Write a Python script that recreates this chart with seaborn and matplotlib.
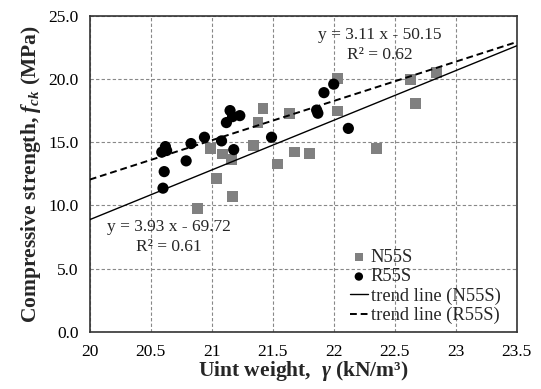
import numpy as np
import pandas as pd
import matplotlib
matplotlib.use("Agg")
import matplotlib.pyplot as plt
import seaborn as sns
from matplotlib.ticker import FuncFormatter, MultipleLocator

# Data
n55s_x = [20.88, 20.99, 21.04, 21.09, 21.16, 21.17, 21.34, 21.38, 21.42, 21.54,
          21.64, 21.68, 21.80, 22.03, 22.03, 22.35, 22.63, 22.67, 22.84]
n55s_y = [9.78, 14.53, 12.16, 14.08, 13.66, 10.68, 14.74, 16.56, 17.70, 13.29,
          17.25, 14.24, 14.10, 20.02, 17.48, 14.48, 19.96, 18.09, 20.50]

r55s_x = [20.59, 20.62, 20.63, 20.61, 20.60, 20.79, 20.83, 20.94, 21.08, 21.18,
          21.12, 21.15, 21.17, 21.23, 21.49, 21.86, 21.87, 21.92, 22.00, 22.12]
r55s_y = [14.22, 14.66, 14.35, 12.68, 11.37, 13.53, 14.90, 15.40, 15.11, 14.42,
          16.56, 17.51, 17.03, 17.11, 15.40, 17.55, 17.30, 18.93, 19.60, 16.10]

# trend line coefficients (slope, intercept, R^2)
n55s_fit = [3.93, -69.72, 0.61]
r55s_fit = [3.11, -50.15, 0.62]
x_range = [20.0, 23.5]

sns.set_theme(style="white")
plt.rcParams["font.family"] = ["Liberation Serif", "DejaVu Serif"]
plt.rcParams["mathtext.fontset"] = "custom"
plt.rcParams["mathtext.rm"] = "Liberation Serif:bold"
plt.rcParams["mathtext.it"] = "Liberation Serif:italic:bold"
plt.rcParams["mathtext.bf"] = "Liberation Serif:bold"

fig, ax = plt.subplots(figsize=(5.41, 3.89), dpi=100)
fig.subplots_adjust(left=0.166, right=0.955, bottom=0.147, top=0.959)

sns.scatterplot(x=n55s_x, y=n55s_y, marker="s", s=60, color="#808080",
                edgecolor="none", label="N55S", ax=ax, zorder=3)
sns.scatterplot(x=r55s_x, y=r55s_y, marker="o", s=65, color="black",
                edgecolor="none", label="R55S", ax=ax, zorder=4)

xs = np.array(x_range)
sns.lineplot(x=xs, y=n55s_fit[0] * xs + n55s_fit[1], color="black", lw=1.0,
             label="trend line (N55S)", ax=ax, zorder=5)
sns.lineplot(x=xs, y=r55s_fit[0] * xs + r55s_fit[1], color="black", lw=1.4,
             linestyle=(0, (3.5, 2)), label="trend line (R55S)", ax=ax, zorder=5)

ax.set_xlim(20, 23.5)
ax.set_ylim(0, 25)
ax.xaxis.set_major_locator(MultipleLocator(0.5))
ax.yaxis.set_major_locator(MultipleLocator(5))
ax.xaxis.set_major_formatter(FuncFormatter(lambda v, p: f"{v:g}"))
ax.yaxis.set_major_formatter(FuncFormatter(lambda v, p: f"{v:.1f}"))
ax.tick_params(direction="in", length=4, width=0.8, colors="black",
               labelsize=12.5, pad=8)
ax.tick_params(axis="x", pad=9)
ax.grid(True, color="#888888", linestyle=(0, (3, 2)), linewidth=0.8)
for sp in ax.spines.values():
    sp.set_color("#333333")
    sp.set_linewidth(1.2)

ax.set_xlabel(r"Uint weight,  $\gamma$ (kN/m³)", fontsize=15.5,
              fontweight="bold", labelpad=-1)
ax.set_ylabel(r"Compressive strength, $f_{ck}$ (MPa)", fontsize=15.5,
              fontweight="bold", labelpad=4)

ax.text(22.38, 23.5, f"y = {r55s_fit[0]:.2f} x - {abs(r55s_fit[1]):.2f}",
        ha="center", va="center", fontsize=12.5)
ax.text(22.38, 21.9, f"R² = {r55s_fit[2]:.2f}", ha="center", va="center",
        fontsize=12.5)
ax.text(20.65, 8.33, f"y = {n55s_fit[0]:.2f} x - {abs(n55s_fit[1]):.2f}",
        ha="center", va="center", fontsize=12.5)
ax.text(20.65, 6.75, f"R² = {n55s_fit[2]:.2f}", ha="center", va="center",
        fontsize=12.5)

ax.legend(loc="lower right", frameon=False, fontsize=13.3, handlelength=1.0,
          handletextpad=0.15, labelspacing=0.12, borderaxespad=0.0,
          markerscale=0.75, bbox_to_anchor=(0.98, 0.0))

fig.savefig("out.png", dpi=100)
